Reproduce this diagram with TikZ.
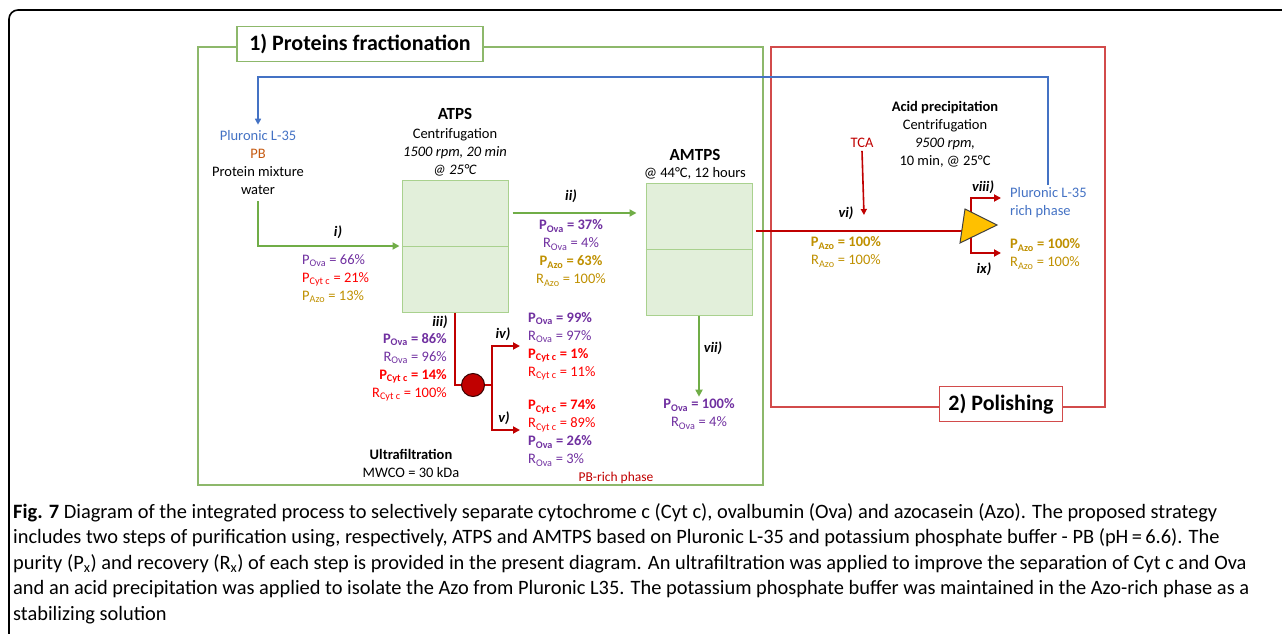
\documentclass[tikz,border=0pt]{standalone}
\usepackage{fontspec}
\setmainfont{Carlito}
\usetikzlibrary{arrows.meta,positioning}

\definecolor{ova}{HTML}{7030A0}
\definecolor{cyt}{HTML}{FF0000}
\definecolor{azo}{HTML}{BF9000}
\definecolor{dred}{HTML}{C00000}
\definecolor{plu}{HTML}{4472C4}
\definecolor{pbc}{HTML}{C55A11}
\definecolor{grn}{HTML}{70AD47}
\definecolor{lgrn}{HTML}{E2EFDA}
\definecolor{boxgrn}{HTML}{A9D18E}
\definecolor{framegrn}{HTML}{8DB86B}
\definecolor{framered}{HTML}{D24B4B}
\definecolor{sepfill}{HTML}{FFC000}

\newcommand\lo[1]{\textsubscript{#1}}

\begin{document}
\begin{tikzpicture}[x=1pt, y=-1pt,
  every node/.style={inner sep=0pt, font=\fontsize{14.5}{18}\selectfont},
  tank/.style={draw=boxgrn, fill=lgrn, line width=1pt, minimum width=106pt, minimum height=132pt},
  gflow/.style={draw=grn, line width=2pt, -{Triangle[length=7pt,width=7pt]}},
  rline/.style={draw=dred, line width=2.4pt},
  rflow/.style={draw=dred, line width=2.4pt, -{Triangle[length=7pt,width=7pt]}},
  tca/.style={draw=dred, line width=1.6pt, -{Triangle[length=6pt,width=6pt]}},
  recycle/.style={draw=plu, line width=2pt, -{Triangle[length=6pt,width=6pt]}},
  tag/.style={font=\fontsize{14.5}{18}\selectfont\bfseries\itshape},
  stepbox/.style={draw, fill=white, line width=1.3pt, minimum height=35pt, font=\fontsize{22}{26}\selectfont\bfseries}]
\useasboundingbox (0,0) rectangle (1282,634);

% outer frame
\draw[line width=1.6pt, rounded corners=9pt] (9,640) -- (9,10) -- (1290,10);

% stage frames
\draw[framegrn, line width=1.3pt] (198,47) rectangle (763,485);
\draw[framered, line width=1.3pt] (771,47) rectangle (1105,407);
\node[stepbox, draw=framegrn, minimum width=246pt] (stage1) at (360,44) {1) Proteins fractionation};
\node[stepbox, draw=framered, minimum width=123pt] (stage2) at (1001,404) {2) Polishing};

% feed
\node[align=center] (feed) at (258,163) {\textcolor{plu}{Pluronic L-35}\\ \textcolor{pbc}{PB}\\ Protein mixture\\ water};

% ATPS
\node[tank] (atps) at (455,246) {};
\draw[boxgrn, line width=1pt] (atps.west) -- (atps.east);
\node[font=\fontsize{17}{18}\selectfont\bfseries] (atpst) at (455,114) {ATPS};
\node[align=center] (atpsc) at (455,152) {Centrifugation\\ \textit{1500 rpm, 20 min}\\ \textit{@ 25°C}};

% AMTPS
\node[tank] (amtps) at (699,249) {};
\draw[boxgrn, line width=1pt] (amtps.west) -- (amtps.east);
\node[font=\fontsize{17}{18}\selectfont\bfseries] (amtpst) at (695,155) {AMTPS};
\node (amtpsc) at (695,173) {@ 44°C, 12 hours};

% ultrafiltration
\node[circle, fill=dred, draw=black!70!dred, line width=1pt, minimum size=23pt] (uf) at (473,385) {};
\node[align=center] (uft) at (411,463) {\textbf{Ultrafiltration}\\ MWCO = 30 kDa};
\coordinate (fork) at (492,385);

% acid precipitation
\node[align=center] (acid) at (945,134) {\textbf{Acid precipitation}\\ Centrifugation\\ \textit{9500 rpm,}\\ 10 min, @ 25°C};
\node[text=dred] (tcat) at (862,143) {TCA};
\coordinate (tcaend) at (864,215);
\coordinate (sepin) at (971,225);
\coordinate (viiiend) at (1001,198);
\coordinate (ixend) at (1001,253);

% purity / recovery
\node[anchor=west, align=left] (si) at (302,279) {\textcolor{ova}{P\lo{Ova} = 66\%}\\ \textcolor{cyt}{P\lo{Cyt c} = 21\%}\\ \textcolor{azo}{P\lo{Azo} = 13\%}};
\node[align=center] (sii) at (571,253) {\textcolor{ova}{\textbf{P\lo{Ova} = 37\%}}\\ \textcolor{ova}{R\lo{Ova} = 4\%}\\ \textcolor{azo}{\textbf{P\lo{Azo} = 63\%}}\\ \textcolor{azo}{R\lo{Azo} = 100\%}};
\node[anchor=east, align=right] (siii) at (447,367) {\textcolor{ova}{\textbf{P\lo{Ova} = 86\%}}\\ \textcolor{ova}{R\lo{Ova} = 96\%}\\ \textcolor{cyt}{\textbf{P\lo{Cyt c} = 14\%}}\\ \textcolor{cyt}{R\lo{Cyt c} = 100\%}};
\node[anchor=west, align=left] (siv) at (528,346) {\textcolor{ova}{\textbf{P\lo{Ova} = 99\%}}\\ \textcolor{ova}{R\lo{Ova} = 97\%}\\ \textcolor{cyt}{\textbf{P\lo{Cyt c} = 1\%}}\\ \textcolor{cyt}{R\lo{Cyt c} = 11\%}};
\node[anchor=west, align=left] (sv) at (528,433) {\textcolor{cyt}{\textbf{P\lo{Cyt c} = 74\%}}\\ \textcolor{cyt}{R\lo{Cyt c} = 89\%}\\ \textcolor{ova}{\textbf{P\lo{Ova} = 26\%}}\\ \textcolor{ova}{R\lo{Ova} = 3\%}};
\node[text=dred, font=\fontsize{13.5}{14}\selectfont] (pbrich) at (616,478) {PB-rich phase};
\node[align=center] (svii) at (699,414) {\textcolor{ova}{\textbf{P\lo{Ova} = 100\%}}\\ \textcolor{ova}{R\lo{Ova} = 4\%}};
\node[align=center] (svi) at (846,252) {\textcolor{azo}{\textbf{P\lo{Azo} = 100\%}}\\ \textcolor{azo}{R\lo{Azo} = 100\%}};
\node[anchor=west, align=left, text=plu] (plurich) at (1010,203) {Pluronic L-35\\ rich phase};
\node[anchor=west, align=left] (six) at (1010,254) {\textcolor{azo}{\textbf{P\lo{Azo} = 100\%}}\\ \textcolor{azo}{R\lo{Azo} = 100\%}};

% step tags
\node[tag] (ti) at (338,232) {i)};
\node[tag] (tii) at (571,196) {ii)};
\node[tag] (tiii) at (440,322) {iii)};
\node[tag] (tiv) at (503,334) {iv)};
\node[tag] (tv) at (504,418) {v)};
\node[tag] (tvi) at (846,213) {vi)};
\node[tag] (tvii) at (713,348) {vii)};
\node[tag] (tviii) at (983,187) {viii)};
\node[tag] (tix) at (984,269) {ix)};

% connectors
\coordinate (loop) at (0,77);
\draw[recycle] ([yshift=3pt]plurich.north) -- (plurich.north |- loop) -| ([yshift=6pt]feed.north);
\draw[gflow] ([yshift=-6pt]feed.south) |- ([xshift=-2pt]atps.west);
\draw[gflow] ([shift={(4pt,33pt)}]atps.east) -- ([shift={(-9pt,36pt)}]amtps.west);
\draw[gflow] (amtps.south) -- ([yshift=2pt]svii.north);
\draw[rline] (atps.south) |- (uf.west);
\draw[rline] (uf.east) -- (fork);
\draw[rflow] (fork) |- ([xshift=-8pt]siv.west);
\draw[rflow] (fork) |- ([shift={(-8pt,3pt)}]sv.west);
\draw[rline] ([shift={(3pt,18pt)}]amtps.east) -- (sepin |- 0,231);
\draw[tca] ([yshift=-3pt]tcat.south) -- (tcaend);
\draw[rflow] (sepin) |- (viiiend);
\draw[rflow] (sepin) |- (ixend);
\filldraw[fill=sepfill, draw=black!75, line width=1pt] (965,209) -- (997,225) -- (960,243) -- cycle;

% caption
\node[anchor=north west, align=left, font=\fontsize{20.4}{25.5}\selectfont] (caption) at (13,503) {\textbf{Fig. 7} Diagram of the integrated process to selectively separate cytochrome c (Cyt c), ovalbumin (Ova) and azocasein (Azo). The proposed strategy\\ includes two steps of purification using, respectively, ATPS and AMTPS based on Pluronic L-35 and potassium phosphate buffer - PB (pH\,=\,6.6). The\\ purity (P\lo{x}) and recovery (R\lo{x}) of each step is provided in the present diagram. An ultrafiltration was applied to improve the separation of Cyt c and Ova\\ and an acid precipitation was applied to isolate the Azo from Pluronic L35. The potassium phosphate buffer was maintained in the Azo-rich phase as a\\ stabilizing solution};
\end{tikzpicture}
\end{document}
